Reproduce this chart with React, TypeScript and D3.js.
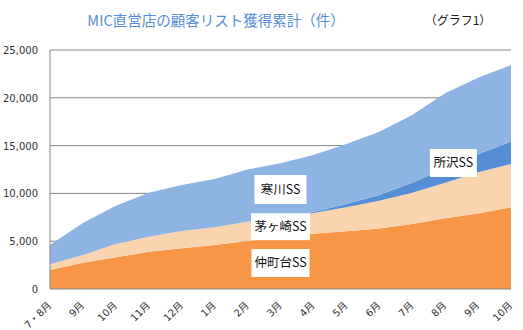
import React from "react";
import * as d3 from "d3";

const categories = ["7・8月", "9月", "10月", "11月", "12月", "1月", "2月", "3月", "4月", "5月", "6月", "7月", "8月", "9月", "10月"];
const nakamachidai = [1990, 2750, 3310, 3900, 4250, 4600, 5020, 5400, 5790, 6030, 6340, 6800, 7390, 7910, 8540];
const chigasaki = [590, 810, 1390, 1570, 1820, 1850, 2020, 2080, 2160, 2510, 2900, 3270, 3730, 4290, 4530];
const tokorozawa = [0, 0, 0, 0, 0, 0, 0, 0, 100, 350, 590, 1050, 1500, 1900, 2340];
const samukawa = [2020, 3340, 4000, 4600, 4810, 5050, 5460, 5670, 5970, 6280, 6630, 7080, 7850, 8000, 8020];
const seriesNames = ["仲町台SS", "茅ヶ崎SS", "所沢SS", "寒川SS"];
const seriesColors = ["#F79646", "#FAD3AF", "#558ED5", "#8EB4E3"];
const yTicks = [0, 5000, 10000, 15000, 20000, 25000];
// label anchors: category index (fractional) and value
const labelCat = [7, 7, 12.25, 7];
const labelVal = [2720, 6520, 13180, 10410];

const W = 523, H = 330;
const L = 50, R = 511, T = 50, B = 289;

export default function App() {
  const x = d3.scalePoint<string>().domain(categories.map((c, i) => i + "")).range([L, R]);
  const xi = (i: number) => L + (i * (R - L)) / (categories.length - 1);
  const y = d3.scaleLinear().domain([0, 25000]).range([B, T]);
  const rows = categories.map((c, i) => ({
    i,
    [seriesNames[0]]: nakamachidai[i],
    [seriesNames[1]]: chigasaki[i],
    [seriesNames[2]]: tokorozawa[i],
    [seriesNames[3]]: samukawa[i],
  }));
  const stack = d3.stack<any>().keys(seriesNames)(rows);
  const area = d3
    .area<any>()
    .x((d) => x(d.data.i + "") as number)
    .y0((d) => y(d[0]))
    .y1((d) => y(d[1]));
  const fmt = d3.format(",");
  const labelW = [58, 59, 47, 52];
  const labelH = [28, 27, 28, 29];
  return (
    <svg width={W} height={H} style={{ position: "absolute", left: 0, top: 0, background: "#fff" }}>
      <text x={216} y={26} textAnchor="middle" fontFamily="Noto Sans CJK JP" fontSize={14.5} fill="#558ED5">
        MIC直営店の顧客リスト獲得累計（件）
      </text>
      <text x={458} y={25} textAnchor="middle" fontFamily="Noto Sans CJK JP" fontSize={12} fill="#222">
        （グラフ1）
      </text>
      {yTicks.map((t) => (
        <g key={t}>
          {t > 0 && <line x1={L} x2={R} y1={y(t)} y2={y(t)} stroke="#868686" strokeWidth={1} />}
          <text x={38} y={y(t) + 4} textAnchor="end" fontFamily="DejaVu Sans" fontSize={10} fill="#333">
            {fmt(t)}
          </text>
        </g>
      ))}
      {stack.map((s, k) => (
        <path key={k} d={area(s) as string} fill={seriesColors[k]} />
      ))}
      <line x1={L} x2={R} y1={B} y2={B} stroke="#868686" strokeWidth={1} />
      <line x1={L} x2={L} y1={T} y2={B} stroke="#868686" strokeWidth={1} />
      {categories.map((c, i) => (
        <text
          key={i}
          transform={`translate(${(x(i + "") as number) + 2},${B + 17}) rotate(-45)`}
          textAnchor="end"
          fontFamily="DejaVu Sans, Noto Sans CJK JP"
          fontSize={10}
          fill="#333"
        >
          {c}
        </text>
      ))}
      {seriesNames.map((n, k) => {
        const cx = xi(labelCat[k]);
        const cy = y(labelVal[k]);
        return (
          <g key={n}>
            <rect x={cx - labelW[k] / 2} y={cy - labelH[k] / 2} width={labelW[k]} height={labelH[k]} fill="#fff" />
            <text x={cx} y={cy + 4.5} textAnchor="middle" fontFamily="Noto Sans CJK JP" fontSize={12.5} fill="#111">
              {n}
            </text>
          </g>
        );
      })}
    </svg>
  );
}
